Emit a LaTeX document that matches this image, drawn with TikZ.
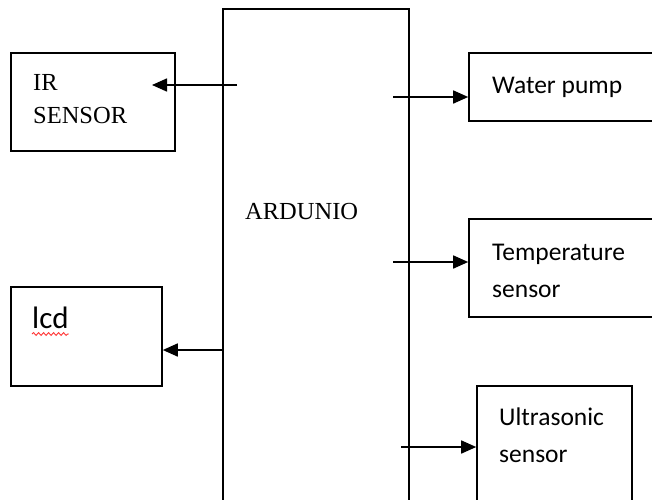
\documentclass[tikz,border=0pt]{standalone}
\usepackage{fontspec}
\setmainfont{Liberation Serif}
\newfontfamily\calfont{Carlito}
\usetikzlibrary{arrows.meta,decorations.pathmorphing}
\tikzset{
  box/.style={draw=black, line width=1.6pt, inner sep=0pt, fill=none},
  arr/.style={line width=1.6pt, -{Triangle[length=15pt,width=13pt]}},
  serif/.style={inner sep=0pt, anchor=base west, text=black, font=\fontsize{24.5}{30}\selectfont},
  sans/.style={inner sep=0pt, anchor=base west, text=black, font=\calfont\fontsize{25.5}{30}\selectfont},
}
\begin{document}
\begin{tikzpicture}[x=1pt,y=-1pt]
\useasboundingbox (0,0) rectangle (652,499);
\clip (0,0) rectangle (652,499);
% boxes
\node[box, minimum width=164pt, minimum height=98pt] (ir) at (93,102) {};
\node[box, minimum width=151pt, minimum height=99pt] (lcd) at (86.5,336.5) {};
\node[box, minimum width=186pt, minimum height=551pt] (ard) at (316,284.5) {};
\node[box, minimum width=231pt, minimum height=68pt] (water) at (584.5,87) {};
\node[box, minimum width=231pt, minimum height=98pt] (temp) at (584.5,268) {};
\node[box, minimum width=155pt, minimum height=174pt] (ultra) at (554.5,473) {};
% texts
\node[serif] (irt1) at (33,90) {IR};
\node[serif] (irt2) at (33,123) {SENSOR};
\node[serif] (ardt) at (245,219) {ARDUNIO};
\node[sans, font=\calfont\fontsize{31}{36}\selectfont] (lcdt) at (32,328) {lcd};
\node[sans] (wt) at (492,93) {Water pump};
\node[sans] (tt1) at (492,260) {Temperature};
\node[sans] (tt2) at (492,297) {sensor};
\node[sans] (ut1) at (499,425) {Ultrasonic};
\node[sans] (ut2) at (499,462) {sensor};
% spell-check squiggle
\draw[red!80!white, line width=0.9pt, decorate, decoration={snake, segment length=5pt, amplitude=1.4pt}] (lcdt.south west |- 0,334) -- (lcdt.south east |- 0,334);
% connector start points
\coordinate (cir) at (237,85);
\coordinate (irtip) at (152,85);
\coordinate (clcd) at (ard.west |- 0,350);
\coordinate (cw) at (393,97);
\coordinate (ct) at (393,262);
\coordinate (cu) at (401,447);
% connectors
\draw[arr] (cir) -- (irtip);
\draw[arr] (clcd) -- (clcd -| lcd.east);
\draw[arr] (cw) -- (cw -| water.west);
\draw[arr] (ct) -- (ct -| temp.west);
\draw[arr] (cu) -- (cu -| ultra.west);
\end{tikzpicture}
\end{document}
